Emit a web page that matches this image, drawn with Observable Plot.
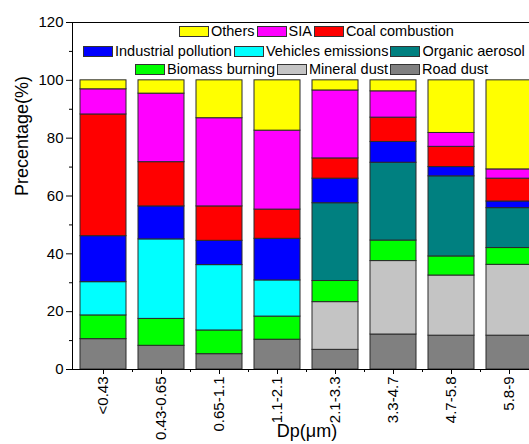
<!DOCTYPE html>
<html>
<head>
<meta charset="utf-8">
<script src="https://cdn.jsdelivr.net/npm/d3@7"></script>
<script src="https://cdn.jsdelivr.net/npm/@observablehq/plot@0.6"></script>
<style>
  html, body { margin: 0; padding: 0; background: #fff; overflow: hidden; }
  #wrap { position: relative; width: 529px; height: 444px; overflow: hidden; font-family: "Liberation Sans", Arial, sans-serif; }
  #wrap svg { max-width: none !important; display: block; }
  .lrow { position: absolute; display: flex; align-items: center; font-size: 14.5px; white-space: nowrap; height: 12px; color: #000; }
  .sw { width: 30px; height: 11px; box-sizing: border-box; border: 1px solid #333; margin-right: 2px; flex: none; }
  .lt { margin-right: 2px; }
</style>
</head>
<body>
<div id="wrap"></div>
<script>
const categories = ["<0.43","0.43-0.65","0.65-1.1","1.1-2.1","2.1-3.3","3.3-4.7","4.7-5.8","5.8-9"];
const sources = ["Road dust","Mineral dust","Biomass burning","Organic aerosol","Vehicles emissions","Industrial pollution","Coal combustion","SIA","Others"];
const colors = ["#808080","#C4C4C4","#00FF00","#008080","#00FFFF","#0000FF","#FF0000","#FF00FF","#FFFF00"];

const roadDust   = [10.5, 8.2, 5.3, 10.3, 6.8, 12.1, 11.7, 11.7];
const mineralDust= [0, 0, 0, 0, 16.5, 25.4, 20.8, 24.5];
const biomass    = [8.2, 9.3, 8.2, 8.0, 7.3, 7.1, 6.6, 5.8];
const organic    = [0, 0, 0, 0, 26.9, 26.9, 27.7, 13.8];
const vehicles   = [11.5, 27.5, 22.6, 12.5, 0, 0, 0, 0];
const industrial = [15.9, 11.4, 8.4, 14.4, 8.5, 7.2, 3.2, 2.3];
const coal       = [42.1, 15.3, 11.9, 10.1, 7.0, 8.4, 7.0, 7.9];
const sia        = [8.7, 23.7, 30.5, 27.3, 23.5, 9.1, 4.8, 3.2];
const others     = [3.1, 4.6, 13.1, 17.4, 3.5, 3.8, 18.2, 30.8];

const yTicks = [0, 20, 40, 60, 80, 100, 120];
const yMinorTicks = [10, 30, 50, 70, 90, 110];
const legendRows = [
  ["Others", "SIA", "Coal combustion"],
  ["Industrial pollution", "Vehicles emissions", "Organic aerosol"],
  ["Biomass burning", "Mineral dust", "Road dust"]
];

const series = [roadDust, mineralDust, biomass, organic, vehicles, industrial, coal, sia, others];
const data = [];
categories.forEach((c, i) => {
  sources.forEach((s, j) => {
    if (series[j][i] > 0) data.push({dp: c, source: s, value: series[j][i]});
  });
});

const font = "'Liberation Sans', Arial, sans-serif";
const chart = Plot.plot({
  width: 561,
  height: 444,
  marginLeft: 72,
  marginRight: 20,
  marginTop: 22,
  marginBottom: 75,
  style: {fontFamily: font, background: "white", color: "black", maxWidth: "none"},
  x: {domain: categories, paddingInner: 0.2, paddingOuter: 0.14, label: null},
  y: {domain: [0, 120], label: null},
  color: {domain: sources, range: colors, legend: false},
  marks: [
    Plot.barY(data, {x: "dp", y: "value", fill: "source", order: sources, stroke: "#2a2a2a", strokeWidth: 1}),
    Plot.frame({stroke: "black", strokeWidth: 1}),
    Plot.axisY({ticks: yTicks, tickSize: 6, tickPadding: 3, fontSize: 15, label: null}),
    Plot.axisY({ticks: yMinorTicks, tickSize: 3, tickFormat: () => "", label: null}),
    Plot.axisX({tickSize: 5, tickPadding: 2, tickRotate: -90, fontSize: 15, label: null}),
    Plot.axisX(categories, {tickSize: 3, tickFormat: () => "", dx: 29, label: null}),
    Plot.text(["Precentage(%)"], {frameAnchor: "left", dx: -50, rotate: -90, fontSize: 18, text: d => d}),
    Plot.text(["Dp(\u03bcm)"], {frameAnchor: "bottom", dy: 67, fontSize: 18, text: d => d})
  ]
});
chart.style.maxWidth = "none";

const wrap = document.getElementById("wrap");
wrap.appendChild(chart);

const rowPos = [[179, 25], [83, 45], [135, 63]];
legendRows.forEach((row, r) => {
  const div = document.createElement("div");
  div.className = "lrow";
  div.style.left = rowPos[r][0] + "px";
  div.style.top = rowPos[r][1] + "px";
  row.forEach(name => {
    const sw = document.createElement("span");
    sw.className = "sw";
    sw.style.background = colors[sources.indexOf(name)];
    const t = document.createElement("span");
    t.className = "lt";
    t.textContent = name;
    div.appendChild(sw);
    div.appendChild(t);
  });
  wrap.appendChild(div);
});
</script>
</body>
</html>
